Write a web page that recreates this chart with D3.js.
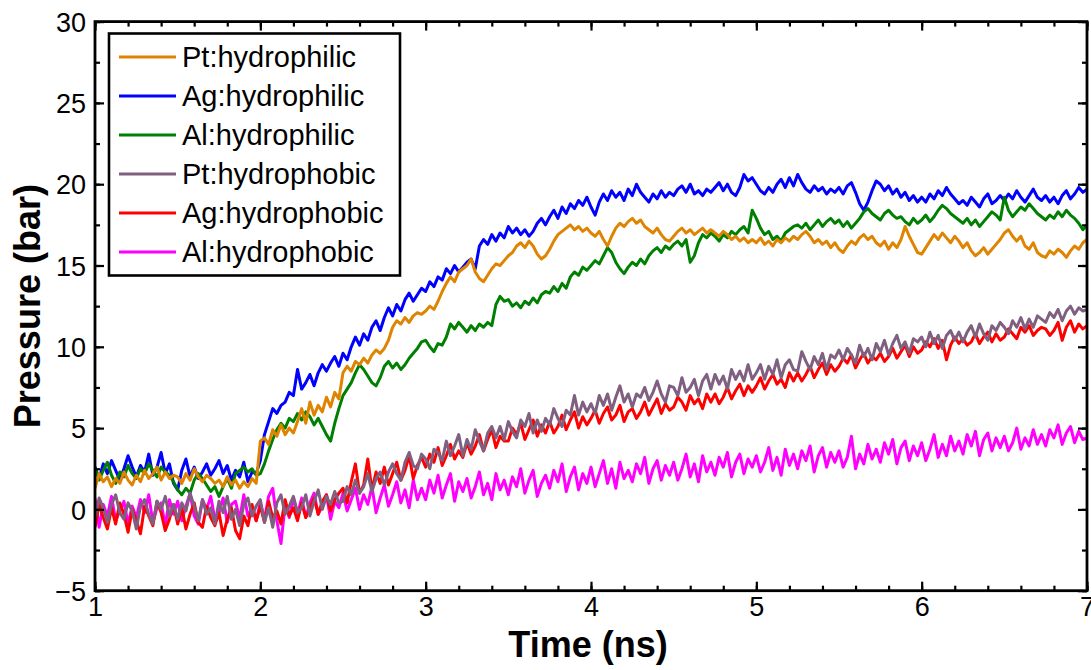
<!DOCTYPE html>
<html>
<head>
<meta charset="utf-8">
<script src="https://cdn.jsdelivr.net/npm/d3@7/dist/d3.min.js"></script>
<style>
  html, body { margin: 0; padding: 0; background: #fff; }
  svg { display: block; }
  text { font-family: "Liberation Sans", Arial, sans-serif; fill: #000; }
</style>
</head>
<body>
<svg id="chart" width="1091" height="670"></svg>
<script>
// Sampling grid: 1.0 ns to 7.0 ns, every 0.025 ns
const tStart = 1.0;
const tStep = 0.025;

const seriesNames = ["Pt:hydrophilic", "Ag:hydrophilic", "Al:hydrophilic",
                     "Pt:hydrophobic", "Ag:hydrophobic", "Al:hydrophobic"];
const seriesColors = ["#df8400", "#0000ff", "#008000", "#806080", "#ff0000", "#ff00ff"];

const xTicks = [1, 2, 3, 4, 5, 6, 7];
const yTicks = [-5, 0, 5, 10, 15, 20, 25, 30];

// Pressure (bar)
const ptHydrophilic = [
  1.3,2.2,1.7,2.0,1.4,1.9,1.6,2.3,1.8,1.5,
  2.1,1.7,2.4,1.9,2.2,2.6,1.8,2.3,1.9,2.1,
  2.0,1.6,2.2,1.8,2.5,2.0,1.7,2.1,1.9,1.6,
  1.8,1.4,2.0,1.5,1.8,1.3,1.7,1.4,1.9,1.6,
  4.2,4.4,4.0,4.9,4.5,5.2,4.6,5.0,4.7,5.4,
  6.2,5.3,6.6,5.8,6.4,6.0,6.9,6.3,7.2,6.8,
  8.4,8.8,8.5,9.1,8.9,9.3,9.0,9.5,9.8,9.6,
  9.9,10.4,11.2,11.6,11.4,11.8,11.5,11.9,12.1,12.0,
  12.2,12.5,12.3,12.8,13.4,13.9,14.3,14.0,14.6,14.8,
  15.0,15.4,14.6,14.2,14.0,14.4,14.8,15.1,15.0,15.3,
  15.6,15.8,16.2,16.4,16.1,16.5,16.2,15.7,15.4,15.6,
  16.0,16.5,16.9,17.1,17.3,17.5,17.2,17.4,17.1,17.3,
  17.0,16.8,17.1,16.6,16.2,16.8,17.3,17.6,17.4,17.7,
  17.9,17.6,17.8,17.4,17.2,17.0,17.3,16.9,16.6,16.5,
  16.8,17.1,17.3,17.0,17.2,16.9,17.1,17.3,17.0,17.2,
  17.0,16.8,17.1,16.9,16.6,16.8,16.5,16.7,16.4,16.6,
  16.4,16.7,16.3,16.5,16.2,16.6,16.4,16.7,16.5,16.8,
  16.6,16.9,17.1,16.8,16.4,16.6,16.3,16.5,16.1,16.4,
  16.0,15.8,16.2,16.5,16.3,16.7,16.9,16.6,16.8,16.4,
  16.2,16.5,16.0,16.4,16.1,16.6,17.4,16.8,16.3,15.8,
  15.7,16.1,16.5,16.9,16.6,17.0,16.7,16.4,16.8,16.5,
  16.1,16.4,15.9,15.6,15.8,16.1,15.7,16.0,16.3,16.6,
  17.0,17.2,16.8,16.5,16.8,16.2,16.0,16.4,15.8,15.6,
  15.5,15.9,15.7,16.0,15.8,15.5,15.9,16.2,16.0,16.4,
  16.6
];

const agHydrophilic = [
  2.6,1.9,2.8,2.2,3.0,2.4,1.8,2.5,3.3,2.6,
  2.0,2.7,2.3,3.4,2.1,2.6,3.5,2.2,2.8,1.6,
  1.2,2.4,3.1,2.0,2.6,1.9,2.3,2.8,2.1,2.5,
  3.0,2.2,2.7,1.8,2.4,2.0,2.9,1.7,2.3,2.2,
  3.0,4.6,5.4,6.2,5.9,6.4,6.6,7.2,7.0,8.6,
  7.4,7.8,8.3,7.6,8.4,8.9,8.5,9.0,9.4,8.8,
  9.6,9.2,10.0,10.6,10.1,10.8,10.4,11.2,11.6,11.0,
  11.8,12.4,11.9,12.6,12.2,12.9,13.3,12.8,13.2,13.6,
  13.4,14.0,13.7,14.3,14.1,14.8,14.5,15.0,14.6,14.9,
  15.2,15.4,14.8,16.2,16.6,16.3,16.9,16.5,17.0,16.7,
  17.4,17.0,17.3,16.9,17.2,16.8,17.1,17.6,17.9,17.5,
  18.0,18.4,17.9,18.6,18.2,18.8,18.5,19.0,18.7,19.2,
  18.6,18.1,18.9,19.4,19.0,19.6,19.2,19.5,19.0,19.7,
  19.3,20.0,19.5,19.2,18.9,19.4,19.1,19.6,19.2,19.5,
  19.3,19.7,19.9,19.5,20.0,19.4,19.6,19.3,19.7,19.5,
  19.8,20.1,19.6,20.0,19.5,19.3,19.8,20.6,20.2,20.4,
  20.0,19.6,19.4,19.8,19.5,20.0,20.3,19.8,20.4,19.9,
  20.6,20.1,19.7,19.5,19.9,19.6,19.8,19.4,19.7,19.5,
  19.8,19.4,19.9,20.1,19.5,18.8,18.4,18.9,19.6,20.2,
  20.0,19.6,19.9,19.4,19.7,19.2,19.5,19.0,19.3,18.9,
  19.2,18.9,19.4,19.1,19.6,19.3,19.8,19.4,19.1,18.8,
  19.0,18.7,19.2,18.9,18.6,19.1,19.4,18.8,19.0,19.3,
  19.0,19.4,19.1,19.6,19.2,18.9,19.3,19.7,19.2,19.0,
  19.3,18.9,19.2,18.8,19.3,19.6,19.1,19.4,19.8,19.5,
  19.7
];

const alHydrophilic = [
  2.6,1.8,2.4,2.9,2.1,1.6,2.3,2.0,2.7,2.2,
  1.9,2.5,2.2,2.8,2.4,2.0,2.6,2.3,2.1,1.7,
  1.2,0.9,1.3,1.0,1.8,2.2,1.9,1.5,1.1,1.4,
  0.8,1.4,1.9,1.3,2.2,2.4,2.6,2.3,2.5,2.1,
  2.2,2.8,3.6,4.3,4.9,5.3,5.0,5.6,5.4,5.9,
  5.5,6.0,5.7,5.2,5.6,5.1,4.6,4.2,5.3,6.2,
  7.0,7.4,7.8,8.4,8.9,8.6,8.2,7.8,7.6,8.1,
  8.8,9.1,8.7,9.0,8.6,8.9,9.3,9.6,9.9,10.3,
  10.4,10.0,9.7,10.2,10.1,10.6,11.4,11.1,11.5,11.2,
  10.9,11.3,11.0,11.4,11.2,11.5,11.3,12.6,13.1,12.8,
  12.9,12.5,12.7,12.4,12.8,12.6,13.0,12.7,13.2,13.4,
  13.3,13.7,13.4,13.9,13.6,14.3,14.6,14.4,14.9,14.7,
  15.0,15.3,15.1,15.6,16.1,15.8,15.2,14.8,14.5,14.9,
  15.2,15.0,15.4,15.1,15.6,15.9,16.1,15.8,16.2,16.0,
  16.3,16.5,16.2,16.6,15.2,15.6,16.4,16.9,16.7,17.0,
  16.8,16.5,16.9,16.7,17.1,16.9,17.2,17.4,17.0,18.4,
  17.9,17.3,16.9,17.1,16.6,16.8,16.5,17.0,17.2,17.4,
  17.5,17.3,17.6,17.2,17.5,17.8,17.4,17.7,17.9,17.6,
  17.8,17.4,17.7,17.3,17.6,17.9,18.3,18.5,18.2,18.0,
  17.8,18.2,18.4,18.1,17.9,18.0,17.7,17.5,17.9,17.6,
  17.8,18.1,17.7,18.0,18.4,18.7,18.5,18.2,18.0,17.8,
  17.6,17.9,17.5,17.8,17.4,17.7,18.0,18.3,18.1,17.8,
  19.2,18.4,18.0,18.3,18.6,18.4,18.8,18.5,18.2,18.0,
  17.8,18.1,17.9,18.3,18.0,18.4,18.1,17.9,17.6,17.2,
  17.5
];

const ptHydrophobic = [
  -0.5,0.7,0.1,-0.8,0.3,0.9,-0.2,-0.6,0.4,-0.1,
  -1.2,0.2,0.6,-0.3,-0.9,0.5,0.0,0.8,-0.4,0.3,
  -0.6,0.4,-0.1,1.0,0.2,-0.7,0.6,-0.3,0.1,-0.9,
  0.5,-0.2,0.8,-0.6,0.0,-1.0,0.3,0.7,-0.4,0.2,
  0.6,-0.8,0.1,-1.1,0.4,0.9,-0.3,0.2,0.8,-0.2,
  0.1,0.9,-0.4,0.5,1.2,0.0,0.8,0.3,1.1,0.4,
  0.5,1.4,0.9,1.8,1.0,1.4,2.2,1.1,1.9,2.3,
  1.5,2.3,2.8,2.2,1.8,2.9,3.5,2.7,2.5,3.4,
  3.1,2.5,3.7,3.5,3.0,4.2,3.3,3.9,4.6,3.3,
  4.3,3.7,4.9,4.2,3.6,4.7,5.1,4.4,5.1,4.3,
  5.4,4.8,4.4,5.5,5.1,5.9,4.7,5.5,4.8,5.6,
  5.2,6.2,5.6,5.1,6.1,5.8,7.0,5.8,6.6,6.0,
  6.5,5.9,7.0,6.4,7.1,6.1,6.9,7.6,6.6,7.1,
  6.3,7.1,6.9,7.5,6.7,7.2,7.9,7.1,6.6,7.6,
  7.5,7.0,8.1,7.2,7.5,8.0,7.0,7.9,8.3,7.4,
  8.3,7.7,8.2,7.4,8.6,8.0,8.5,7.9,8.9,8.0,
  8.4,8.9,8.0,8.8,8.3,9.2,8.1,8.9,9.2,8.6,
  8.5,9.7,9.1,8.6,9.4,8.9,9.6,8.6,9.5,9.3,
  9.8,9.2,9.9,9.5,9.0,10.1,9.4,9.9,9.2,10.2,
  9.7,10.4,9.5,10.2,10.7,9.9,10.3,9.6,10.5,10.3,
  10.6,10.0,10.9,10.2,10.7,9.9,10.7,11.0,10.4,10.9,
  10.3,10.9,11.3,10.6,11.4,10.8,10.4,11.3,11.0,11.5,
  11.2,10.8,11.6,11.2,11.8,11.1,11.7,11.2,11.9,11.7,
  11.5,12.1,11.8,12.3,11.6,12.2,12.5,12.0,12.4,12.2,
  12.3
];

const agHydrophobic = [
  -1.1,0.3,-0.5,-1.2,0.1,-0.9,0.4,-0.3,-1.4,0.0,
  -0.7,-1.5,0.2,-0.4,-1.0,0.5,-0.2,-1.3,-0.6,0.3,
  -0.9,0.1,-1.2,-0.3,0.4,-0.8,-1.1,0.2,-0.5,-1.0,
  -0.2,-1.6,-0.6,0.1,-1.3,-1.8,-0.4,-1.0,0.3,-0.7,
  0.2,-0.8,0.5,-0.5,-0.1,-0.9,0.6,-0.4,0.1,-0.7,
  0.4,-0.5,0.1,0.7,-0.3,0.5,0.9,-0.1,0.6,1.0,
  1.3,0.4,1.7,2.8,1.0,1.5,3.1,1.2,2.3,1.6,
  2.6,1.5,2.2,2.9,1.8,2.4,3.3,1.9,2.7,3.2,
  2.6,3.4,2.9,3.8,2.7,3.3,4.0,3.1,3.6,3.2,
  4.1,3.4,3.9,4.6,3.6,4.3,4.9,3.8,4.5,4.2,
  4.2,5.0,4.6,5.3,4.3,4.9,5.5,4.5,5.2,4.7,
  5.4,4.7,5.1,5.8,4.9,5.5,6.0,5.0,5.7,5.2,
  5.6,6.1,5.3,5.9,6.3,5.5,5.8,6.4,5.4,6.0,
  6.2,5.6,6.0,6.6,5.8,6.3,6.8,5.9,6.5,6.1,
  6.3,6.9,6.6,6.1,7.0,6.5,6.8,6.2,7.1,6.6,
  7.1,6.5,6.9,7.5,6.8,7.3,7.7,7.0,7.6,7.2,
  7.6,8.1,7.4,7.9,8.3,7.7,8.0,7.5,8.4,7.9,
  8.4,7.9,8.3,8.8,8.1,8.6,9.0,8.3,8.9,8.5,
  8.8,9.3,9.0,9.5,8.7,9.2,9.6,9.0,9.4,9.2,
  9.6,9.1,9.4,9.9,9.3,9.7,10.1,9.4,10.0,9.6,
  9.8,10.3,10.0,10.5,9.9,10.4,9.2,10.1,10.6,10.2,
  10.5,10.1,10.3,10.8,10.2,10.6,10.9,10.3,10.8,10.4,
  10.6,11.1,10.8,10.5,11.2,10.9,11.3,10.7,11.0,11.2,
  11.1,10.7,11.0,11.5,10.4,11.2,11.6,10.9,11.4,11.1,
  11.3
];

const alHydrophobic = [
  0.7,-1.1,0.3,-0.4,0.8,-0.7,-0.1,0.5,-0.9,0.2,
  -0.5,0.6,-0.2,0.9,-0.8,0.1,0.4,-1.0,0.6,-0.3,
  0.5,-0.7,0.2,1.0,-0.4,-0.9,0.6,0.0,0.8,-0.6,
  -0.2,0.7,-0.8,0.3,0.5,-0.6,0.9,-0.4,0.1,-0.7,
  0.4,-0.6,0.8,1.3,-0.7,-2.1,0.3,-0.5,0.7,-0.3,
  0.7,-0.5,0.4,1.0,-0.3,0.2,0.9,-0.6,0.5,0.1,
  1.0,-0.1,0.6,1.3,0.0,0.9,0.3,1.4,-0.2,0.7,
  1.5,0.2,0.9,1.7,0.4,1.2,0.1,1.8,0.6,1.3,
  0.6,1.8,1.0,2.1,0.7,1.5,2.2,0.5,1.7,1.1,
  1.9,0.7,1.4,2.3,0.9,1.6,0.6,2.2,1.2,1.8,
  0.9,2.0,1.4,2.5,1.0,1.8,2.4,0.8,1.6,2.1,
  1.3,2.4,1.7,2.8,1.1,2.0,2.6,1.2,2.2,1.6,
  2.6,1.4,2.2,3.0,1.6,2.5,1.3,2.9,1.9,2.4,
  1.7,2.8,2.2,3.2,1.6,2.5,3.0,1.8,2.7,2.1,
  2.9,1.8,2.5,3.4,2.0,2.8,1.7,3.3,2.3,2.9,
  2.1,3.2,2.6,3.5,2.0,2.9,3.4,2.2,3.1,2.6,
  3.3,2.3,2.9,3.8,2.4,3.2,2.1,3.7,2.7,3.4,
  2.5,3.6,3.0,3.9,2.3,3.3,3.8,2.6,3.5,2.9,
  3.6,2.6,3.2,4.5,2.5,3.4,2.8,4.0,3.1,3.7,
  2.9,4.1,3.4,4.3,2.8,3.8,4.2,3.0,3.9,3.3,
  4.1,3.0,3.7,4.6,3.2,4.0,3.3,4.5,3.6,4.2,
  3.4,4.6,3.9,4.8,3.3,4.3,4.7,3.6,4.4,3.8,
  4.5,3.6,4.1,5.0,3.7,4.4,3.9,4.9,4.0,4.6,
  3.9,4.9,4.4,5.2,4.0,4.7,5.1,4.1,4.8,4.3,
  4.4
];

const seriesValues = [ptHydrophilic, agHydrophilic, alHydrophilic,
                      ptHydrophobic, agHydrophobic, alHydrophobic];
// Painting order (later ones sit on top)
const drawOrder = [1, 2, 0, 5, 4, 3];

const svg = d3.select("#chart");
const plotLeft = 95, plotRight = 1087, plotTop = 21.6, plotBottom = 590.7;
const x = d3.scaleLinear().domain([1, 7]).range([plotLeft, plotRight]);
const y = d3.scaleLinear().domain([-5, 30]).range([plotBottom, plotTop]);

svg.append("defs").append("clipPath").attr("id", "plotClip")
  .append("rect")
  .attr("x", x(1)).attr("y", y(30))
  .attr("width", x(7) - x(1)).attr("height", y(-5) - y(30));

const line = d3.line()
  .x((d, i) => x(tStart + i * tStep))
  .y(d => y(d));

const plot = svg.append("g").attr("clip-path", "url(#plotClip)");
drawOrder.forEach(k => {
  plot.append("path")
    .datum(seriesValues[k])
    .attr("fill", "none")
    .attr("stroke", seriesColors[k])
    .attr("stroke-width", 3)
    .attr("stroke-linejoin", "round")
    .attr("d", line);
});

// Axes: ticks point inward on all four sides
const xMinor = d3.range(1, 7.0001, 0.2);
const yMinor = d3.range(-5, 30.0001, 2.5);
const fmt = d3.format("d");

function styleAxis(g) {
  g.select(".domain").remove();
  g.selectAll("line").attr("stroke", "#000").attr("stroke-width", 2.2);
}

function tickSet(values, size) {
  svg.append("g").attr("transform", `translate(0,${y(-5)})`)
    .call(d3.axisTop(x).tickValues(values.x).tickSize(size).tickFormat(""))
    .call(styleAxis);
  svg.append("g").attr("transform", `translate(0,${y(30)})`)
    .call(d3.axisBottom(x).tickValues(values.x).tickSize(size).tickFormat(""))
    .call(styleAxis);
  svg.append("g").attr("transform", `translate(${x(1)},0)`)
    .call(d3.axisRight(y).tickValues(values.y).tickSize(size).tickFormat(""))
    .call(styleAxis);
  svg.append("g").attr("transform", `translate(${x(7)},0)`)
    .call(d3.axisLeft(y).tickValues(values.y).tickSize(size).tickFormat(""))
    .call(styleAxis);
}
tickSet({ x: xMinor, y: yMinor }, 5);
tickSet({ x: xTicks, y: yTicks }, 9);

// tick labels
const xLab = svg.append("g").attr("transform", `translate(0,${y(-5)})`)
  .call(d3.axisBottom(x).tickValues(xTicks).tickSize(0).tickPadding(5).tickFormat(fmt));
xLab.select(".domain").remove();
xLab.selectAll("text").attr("font-size", 27)
  .attr("font-family", "Liberation Sans, Arial, sans-serif").attr("dy", "0.75em");

const yLab = svg.append("g").attr("transform", `translate(${x(1)},0)`)
  .call(d3.axisLeft(y).tickValues(yTicks).tickSize(0).tickPadding(9).tickFormat(fmt));
yLab.select(".domain").remove();
yLab.selectAll("text").attr("font-size", 27)
  .attr("font-family", "Liberation Sans, Arial, sans-serif").attr("dy", "0.36em");

// frame
svg.append("rect")
  .attr("x", x(1)).attr("y", y(30))
  .attr("width", x(7) - x(1)).attr("height", y(-5) - y(30))
  .attr("fill", "none").attr("stroke", "#000").attr("stroke-width", 2.8);

// axis titles
svg.append("text")
  .attr("x", (x(1) + x(7)) / 2 - 3).attr("y", 657)
  .attr("text-anchor", "middle")
  .attr("font-size", 36).attr("font-weight", "bold")
  .text("Time (ns)");

svg.append("text")
  .attr("transform", `translate(40,${(y(-5) + y(30)) / 2})rotate(-90)`)
  .attr("text-anchor", "middle")
  .attr("font-size", 36).attr("font-weight", "bold")
  .text("Pressure (bar)");

// legend
const lg = svg.append("g").attr("transform", "translate(109,33.5)");
lg.append("rect").attr("width", 291).attr("height", 242)
  .attr("fill", "#fff").attr("stroke", "#000").attr("stroke-width", 2.6);
seriesNames.forEach((name, i) => {
  const cy = 23.5 + i * 39;
  lg.append("line").attr("x1", 10).attr("x2", 67).attr("y1", cy).attr("y2", cy)
    .attr("stroke", seriesColors[i]).attr("stroke-width", 3);
  lg.append("text").attr("x", 73).attr("y", cy).attr("dy", "0.36em")
    .attr("font-size", 29).text(name);
});
</script>
</body>
</html>
